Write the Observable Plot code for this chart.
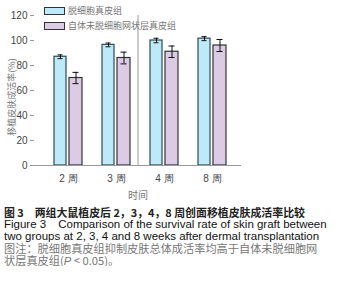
<!DOCTYPE html>
<html><head><meta charset="utf-8">
<script src="https://cdn.jsdelivr.net/npm/d3@7"></script>
<script src="https://cdn.jsdelivr.net/npm/@observablehq/plot@0.6"></script>
<style>
body{margin:0;background:#fff;font-family:"Liberation Sans",Arial,sans-serif;}
#wrap{position:relative;width:344px;height:206px;}
.leg{position:absolute;left:44px;height:6px;width:19px;border:1px solid #333;}
.legt{position:absolute;left:68px;font:9px "Noto Sans CJK SC",sans-serif;color:#777;line-height:10px;white-space:nowrap;}
#cap{font-size:11.5px;line-height:12px;padding-left:4px;color:#111;}
#cap div{height:12px;white-space:nowrap;}
#cap .cn{font-family:"Noto Sans CJK SC",sans-serif;font-size:11.2px;}
#cap .g{color:#777;}
#ylab{position:absolute;left:12px;top:97px;transform:translate(-50%,-50%) rotate(-90deg);font:9px "Noto Sans CJK SC",sans-serif;color:#777;white-space:nowrap;line-height:10px;}
</style></head>
<body><div id="wrap"></div>
<div id="cap">
<div class="cn" style="font-weight:bold;color:#222;font-size:10.9px">图 3　两组大鼠植皮后 2，3，4，8 周创面移植皮肤成活率比较</div>
<div>Figure 3　Comparison of the survival rate of skin graft between</div>
<div>two groups at 2, 3, 4 and 8 weeks after dermal transplantation</div>
<div class="cn g">图注：脱细胞真皮组抑制皮肤总体成活率均高于自体未脱细胞网</div>
<div class="cn g">状层真皮组(<i style="font-family:'Liberation Sans'">P</i> &lt; 0.05)。</div>
</div>
<script>
const weeks = ["2 周", "3 周", "4 周", "8 周"];
const groups = ["脱细胞真皮组", "自体未脱细胞网状层真皮组"];
const acellular = [87, 96.5, 100, 101.5];
const acellularErr = [1.5, 1.5, 1.8, 1.6];
const native = [70, 86, 91, 96];
const nativeErr = [4.5, 4.7, 4.6, 4.8];
const yTicks = [0, 20, 40, 60, 80, 100, 120];
const yLabel = "移植皮肤成活率(%)";
const xLabel = "时间";
const colors = ["#bde9f8", "#dccbe6"];
const strokes = ["#2d4a52", "#333"];

const A = weeks.map((w, i) => ({week: w, v: acellular[i], e: acellularErr[i]}));
const B = weeks.map((w, i) => ({week: w, v: native[i], e: nativeErr[i]}));

function groupMarks(data, fill, stroke, inL, inR, dx) {
  return [
    Plot.barY(data, {x: "week", y: "v", fill, stroke, strokeWidth: 1.2, insetLeft: inL, insetRight: inR}),
    Plot.ruleX(data, {x: "week", y1: d => d.v - d.e, y2: d => d.v + d.e, dx, stroke: "#111", strokeWidth: 1}),
    Plot.tickY(data, {x: "week", y: d => d.v + d.e, insetLeft: inL + 3.5, insetRight: inR + 3.5, stroke: "#111"}),
    Plot.tickY(data, {x: "week", y: d => d.v - d.e, insetLeft: inL + 3.5, insetRight: inR + 3.5, stroke: "#111"})
  ];
}

const chart = Plot.plot({
  width: 344, height: 206,
  marginLeft: 34, marginRight: 103, marginTop: 15, marginBottom: 41,
  style: {fontFamily: "'Liberation Sans', Arial, sans-serif", fontSize: "10px", color: "#444", background: "transparent"},
  x: {domain: weeks, padding: 0, insetLeft: 9.5, insetRight: 5.5},
  y: {domain: [0, 120]},
  marks: [
    ...groupMarks(A, colors[0], strokes[0], 10, 26, -8),
    ...groupMarks(B, colors[1], strokes[1], 25, 10, 7.5),
    Plot.axisY({ticks: yTicks, tickSize: 4, tickPadding: 3, label: null, stroke: "#999", fill: "#444"}),
    Plot.axisX({tickSize: 0, tickPadding: 9, label: null, fill: "#444"}),
    Plot.ruleX([0], {x: null, y1: 0, y2: 120, frameAnchor: "left", stroke: "#999"}),
    Plot.ruleY([0], {stroke: "#999"}),
    Plot.text([xLabel], {frameAnchor: "bottom", dy: 33, fontFamily: "'Noto Sans CJK SC', sans-serif", fill: "#777", fontSize: 10})
  ]
});
const wrap = document.getElementById("wrap");
wrap.appendChild(chart);
const yl = document.createElement("div"); yl.id = "ylab"; yl.textContent = yLabel; wrap.appendChild(yl);
groups.forEach((g, i) => {
  const b = document.createElement("div");
  b.className = "leg"; b.style.top = (i ? 22 : 7) + "px"; b.style.background = colors[i];
  wrap.appendChild(b);
  const t = document.createElement("div");
  t.className = "legt"; t.style.top = (i ? 21 : 5.5) + "px"; t.textContent = g;
  wrap.appendChild(t);
});
</script>
</body></html>
